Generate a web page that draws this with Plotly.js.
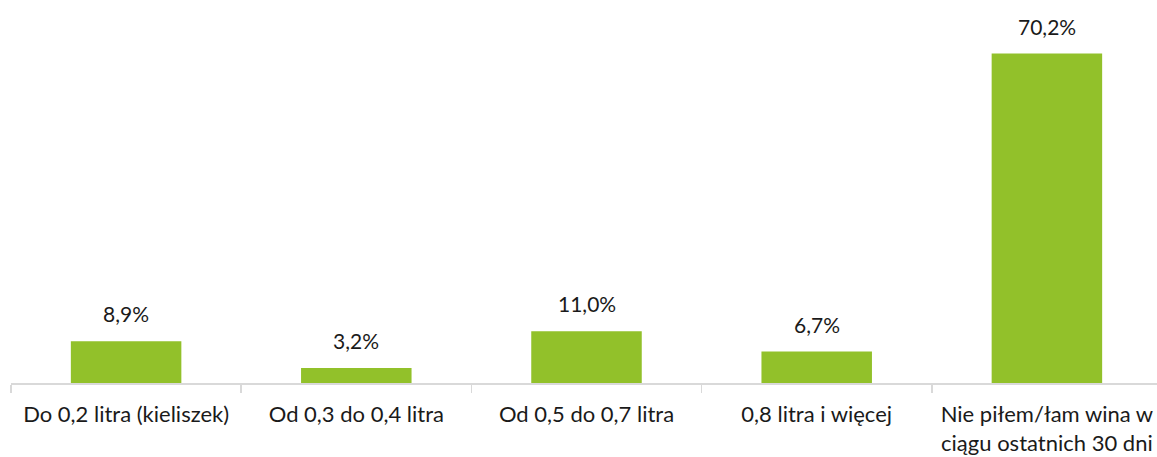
<!DOCTYPE html>
<html>
<head>
<meta charset="utf-8">
<script src="https://cdn.plot.ly/plotly-3.0.1.min.js"></script>
<style>
html,body{margin:0;padding:0;overflow:hidden;background:#fff;}
#chart{width:1162px;height:457px;}
</style>
</head>
<body>
<div id="chart"></div>
<script>
const categories = [
  "Do 0,2 litra (kieliszek)",
  "Od 0,3 do 0,4 litra",
  "Od 0,5 do 0,7 litra",
  "0,8 litra i więcej",
  "Nie piłem/łam wina w<br>ciągu ostatnich 30 dni"
];
const values = [8.9, 3.2, 11.0, 6.7, 70.2];

const fmt = v => v.toFixed(1).replace('.', ',') + '%';
const FONT = 'Lato, "Open Sans", sans-serif';

const trace = {
  type: 'bar',
  x: categories,
  y: values,
  marker: {color: '#92C12A'},
  hoverinfo: 'none'
};

const annotations = values.map((v, i) => ({
  x: categories[i], y: v, xref: 'x', yref: 'y',
  text: fmt(v), showarrow: false, yanchor: 'bottom', yshift: 13,
  font: {family: FONT, size: 21, color: '#1a1a1a'}
}));

const layout = {
  width: 1162, height: 457,
  margin: {l: 11, r: 0, t: 0, b: 74},
  paper_bgcolor: '#fff', plot_bgcolor: '#fff',
  showlegend: false,
  bargap: 0.52,
  xaxis: {
    type: 'category',
    showline: true, linecolor: '#D9D9D9', linewidth: 1.5,
    ticks: 'outside', tickson: 'boundaries', ticklen: 8, tickcolor: '#D9D9D9', tickwidth: 1.5,
    ticklabelstandoff: 11,
    showgrid: false, zeroline: false,
    tickfont: {family: FONT, size: 22, color: '#1a1a1a'}
  },
  yaxis: {
    range: [0, 81.6], visible: false, showgrid: false, zeroline: false
  },
  annotations: annotations
};

Plotly.newPlot('chart', [trace], layout, {displayModeBar: false, staticPlot: true});
</script>
</body>
</html>
